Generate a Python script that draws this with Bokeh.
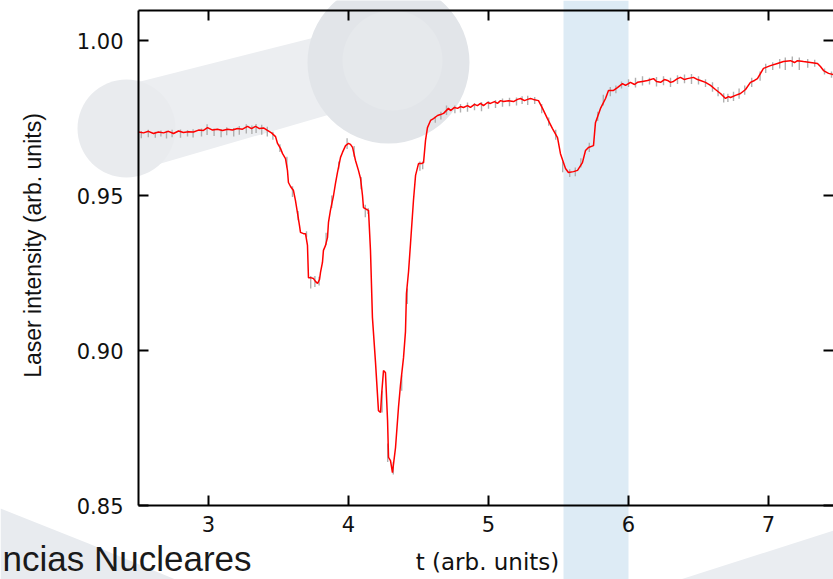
from bokeh.plotting import figure
from bokeh.models import (Range1d, LinearAxis, FixedTicker, PrintfTickFormatter,
                          CustomJSTickFormatter, ColumnDataSource)
from bokeh.core.properties import value
from bokeh.embed import file_html
from bokeh.resources import INLINE

# ---------------- data ----------------
x_ticks = [3, 4, 5, 6, 7]
y_ticks = [0.85, 0.90, 0.95, 1.00]

fit_t = [2.500, 2.536, 2.571, 2.607, 2.643, 2.679, 2.714, 2.750, 2.786, 2.821,
         2.857, 2.893, 2.929, 2.964, 2.993, 3.029, 3.064, 3.100, 3.136, 3.171,
         3.207, 3.243, 3.279, 3.307, 3.336, 3.364, 3.393, 3.421, 3.450, 3.479,
         3.493, 3.514, 3.529, 3.550, 3.564, 3.571, 3.586, 3.607, 3.621, 3.636,
         3.650, 3.657, 3.679, 3.693, 3.707, 3.714, 3.729, 3.750, 3.764, 3.779,
         3.793, 3.800, 3.814, 3.821, 3.836, 3.850, 3.857, 3.871, 3.893, 3.907,
         3.921, 3.943, 3.957, 3.979, 4.000, 4.014, 4.029, 4.050, 4.071, 4.086,
         4.100, 4.107, 4.129, 4.143, 4.157, 4.171, 4.193, 4.214, 4.229, 4.236,
         4.250, 4.264, 4.279, 4.286, 4.300, 4.314, 4.336, 4.357, 4.371, 4.393,
         4.407, 4.414, 4.429, 4.443, 4.464, 4.479, 4.500, 4.521, 4.536, 4.550,
         4.564, 4.586, 4.607, 4.636, 4.657, 4.679, 4.714, 4.729, 4.757, 4.779,
         4.800, 4.821, 4.850, 4.871, 4.900, 4.921, 4.943, 4.964, 4.993, 5.014,
         5.043, 5.064, 5.086, 5.107, 5.143, 5.179, 5.207, 5.229, 5.257, 5.279,
         5.300, 5.321, 5.357, 5.386, 5.421, 5.457, 5.493, 5.514, 5.550, 5.571,
         5.607, 5.636, 5.671, 5.693, 5.714, 5.750, 5.764, 5.800, 5.836, 5.857,
         5.893, 5.921, 5.957, 5.979, 6.014, 6.043, 6.064, 6.100, 6.136, 6.179,
         6.200, 6.229, 6.257, 6.279, 6.300, 6.321, 6.350, 6.371, 6.400, 6.421,
         6.464, 6.493, 6.514, 6.550, 6.586, 6.621, 6.657, 6.693, 6.714, 6.729,
         6.764, 6.800, 6.836, 6.871, 6.900, 6.921, 6.964, 7.014, 7.064, 7.107,
         7.157, 7.186, 7.207, 7.250, 7.300, 7.350, 7.371, 7.393, 7.429, 7.464]

fit_v = [0.9705, 0.9702, 0.9707, 0.9700, 0.9705, 0.9702, 0.9707, 0.9700, 0.9708, 0.9703,
         0.9706, 0.9705, 0.9711, 0.9710, 0.9719, 0.9711, 0.9714, 0.9710, 0.9714, 0.9711,
         0.9716, 0.9714, 0.9723, 0.9716, 0.9723, 0.9716, 0.9718, 0.9710, 0.9702, 0.9690,
         0.9668, 0.9652, 0.9635, 0.9619, 0.9581, 0.9542, 0.9529, 0.9516, 0.9484, 0.9442,
         0.9403, 0.9381, 0.9377, 0.9377, 0.9339, 0.9235, 0.9235, 0.9232, 0.9223, 0.9216,
         0.9229, 0.9252, 0.9284, 0.9323, 0.9339, 0.9365, 0.9413, 0.9452, 0.9500, 0.9539,
         0.9574, 0.9623, 0.9639, 0.9661, 0.9668, 0.9665, 0.9655, 0.9613, 0.9581, 0.9555,
         0.9500, 0.9461, 0.9455, 0.9452, 0.9323, 0.9106, 0.8961, 0.8806, 0.8800, 0.8855,
         0.8935, 0.8929, 0.8774, 0.8655, 0.8645, 0.8606, 0.8687, 0.8816, 0.8887, 0.8977,
         0.9061, 0.9184, 0.9255, 0.9345, 0.9484, 0.9565, 0.9603, 0.9603, 0.9606, 0.9677,
         0.9719, 0.9742, 0.9748, 0.9758, 0.9761, 0.9765, 0.9781, 0.9774, 0.9784, 0.9781,
         0.9787, 0.9784, 0.9790, 0.9784, 0.9794, 0.9790, 0.9797, 0.9790, 0.9800, 0.9797,
         0.9803, 0.9797, 0.9806, 0.9803, 0.9806, 0.9803, 0.9810, 0.9813, 0.9806, 0.9810,
         0.9813, 0.9810, 0.9806, 0.9781, 0.9748, 0.9716, 0.9687, 0.9635, 0.9587, 0.9574,
         0.9577, 0.9581, 0.9606, 0.9645, 0.9655, 0.9661, 0.9735, 0.9781, 0.9813, 0.9839,
         0.9839, 0.9848, 0.9861, 0.9855, 0.9865, 0.9858, 0.9865, 0.9868, 0.9871, 0.9877,
         0.9868, 0.9865, 0.9874, 0.9871, 0.9865, 0.9868, 0.9877, 0.9881, 0.9874, 0.9877,
         0.9881, 0.9874, 0.9871, 0.9865, 0.9855, 0.9842, 0.9829, 0.9813, 0.9819, 0.9816,
         0.9823, 0.9829, 0.9842, 0.9865, 0.9871, 0.9877, 0.9910, 0.9919, 0.9926, 0.9932,
         0.9935, 0.9929, 0.9935, 0.9932, 0.9929, 0.9926, 0.9916, 0.9903, 0.9894, 0.9890]

# raw signal: spikes around the fit (time, low, high)
raw_t = [2.52, 2.57, 2.62, 2.66, 2.70, 2.74, 2.80, 2.85, 2.89, 2.95,
         2.99, 3.04, 3.09, 3.13, 3.18, 3.22, 3.27, 3.31, 3.34, 3.38,
         3.42, 3.46, 3.51, 3.56, 3.60, 3.64, 3.70, 3.73, 3.76, 3.79,
         3.84, 3.88, 3.93, 3.99, 4.04, 4.09, 4.12, 4.14, 4.24, 4.28,
         4.32, 4.38, 4.42, 4.51, 4.53, 4.62, 4.66, 4.70, 4.76, 4.80,
         4.85, 4.90, 4.95, 5.00, 5.05, 5.10, 5.15, 5.20, 5.24, 5.28,
         5.33, 5.38, 5.43, 5.48, 5.53, 5.58, 5.62, 5.66, 5.72, 5.78,
         5.82, 5.87, 5.91, 5.95, 6.00, 6.05, 6.10, 6.15, 6.20, 6.25,
         6.30, 6.35, 6.40, 6.45, 6.50, 6.55, 6.60, 6.64, 6.68, 6.71,
         6.75, 6.79, 6.83, 6.88, 6.94, 6.98, 7.03, 7.08, 7.12, 7.17,
         7.22, 7.28, 7.33, 7.40, 7.45]
raw_lo = [0.9685, 0.9688, 0.9686, 0.9690, 0.9684, 0.9688, 0.9686, 0.9690, 0.9687, 0.9690,
          0.9695, 0.9692, 0.9688, 0.9694, 0.9690, 0.9696, 0.9700, 0.9698, 0.9702, 0.9696,
          0.9690, 0.9680, 0.9640, 0.9590, 0.9495, 0.9420, 0.9365, 0.9200, 0.9205, 0.9210,
          0.9340, 0.9460, 0.9585, 0.9650, 0.9625, 0.9520, 0.9430, 0.9440, 0.8800, 0.8640,
          0.8600, 0.8870, 0.9150, 0.9580, 0.9585, 0.9735, 0.9745, 0.9760, 0.9765, 0.9768,
          0.9770, 0.9775, 0.9772, 0.9780, 0.9782, 0.9786, 0.9788, 0.9790, 0.9795, 0.9792,
          0.9795, 0.9765, 0.9725, 0.9680, 0.9575, 0.9560, 0.9562, 0.9590, 0.9640, 0.9740,
          0.9790, 0.9820, 0.9830, 0.9845, 0.9850, 0.9848, 0.9855, 0.9858, 0.9852, 0.9856,
          0.9850, 0.9860, 0.9862, 0.9860, 0.9858, 0.9850, 0.9835, 0.9820, 0.9800, 0.9802,
          0.9805, 0.9812, 0.9825, 0.9850, 0.9870, 0.9895, 0.9905, 0.9910, 0.9905, 0.9915,
          0.9905, 0.9912, 0.9915, 0.9890, 0.9880]
raw_hi = [0.9708, 0.9712, 0.9706, 0.9710, 0.9709, 0.9712, 0.9713, 0.9711, 0.9714, 0.9716,
          0.9730, 0.9716, 0.9714, 0.9720, 0.9718, 0.9724, 0.9730, 0.9726, 0.9731, 0.9728,
          0.9722, 0.9706, 0.9665, 0.9625, 0.9530, 0.9450, 0.9385, 0.9240, 0.9240, 0.9238,
          0.9380, 0.9500, 0.9610, 0.9685, 0.9660, 0.9560, 0.9470, 0.9460, 0.8870, 0.8700,
          0.8640, 0.8920, 0.9200, 0.9610, 0.9610, 0.9755, 0.9770, 0.9790, 0.9790, 0.9795,
          0.9800, 0.9798, 0.9802, 0.9805, 0.9808, 0.9813, 0.9815, 0.9816, 0.9820, 0.9822,
          0.9818, 0.9795, 0.9752, 0.9712, 0.9610, 0.9585, 0.9590, 0.9620, 0.9670, 0.9770,
          0.9825, 0.9850, 0.9855, 0.9868, 0.9875, 0.9880, 0.9885, 0.9880, 0.9882, 0.9885,
          0.9880, 0.9888, 0.9890, 0.9892, 0.9885, 0.9875, 0.9865, 0.9850, 0.9830, 0.9828,
          0.9835, 0.9845, 0.9855, 0.9880, 0.9900, 0.9925, 0.9930, 0.9940, 0.9945, 0.9948,
          0.9945, 0.9940, 0.9938, 0.9910, 0.9900]

x_title = "t (arb. units)"
y_title = "Laser intensity (arb. units)"
watermark_text = "ncias Nucleares"

# axis box limits (data units)
T_MIN, T_MAX = 2.5, 7.4643
V_MIN, V_MAX = 0.85, 1.00968

# ---------------- page geometry ----------------
W, H = 833, 579
PX_PER_T = 140.0      # pixels per time unit
PX_PER_V = 3100.0     # pixels per intensity unit
FRAME_L, FRAME_B = 138, 505

def tx(px):   # page pixel -> time coordinate (decorations / titles only)
    return T_MIN + (px - FRAME_L) / PX_PER_T

def vy(py):   # page pixel -> intensity coordinate (decorations / titles only)
    return V_MIN + (FRAME_B - py) / PX_PER_V

p = figure(width=W, height=H, output_backend="svg", toolbar_location=None,
           x_range=Range1d(tx(0), tx(W)), y_range=Range1d(vy(H), vy(0)),
           x_axis_location=None, y_axis_location=None,
           min_border=0, min_border_left=0, min_border_right=0,
           min_border_top=0, min_border_bottom=0)
p.grid.grid_line_color = None
p.outline_line_color = None
p.background_fill_color = "white"
p.border_fill_color = "white"

# ---------------- watermark (background decoration) ----------------
def patch_px(xs, ys, color):
    p.patch([tx(x) for x in xs], [vy(y) for y in ys], fill_color=color, line_color=None)

def disc_px(x, y, r, color):
    p.circle(x=[tx(x)], y=[vy(y)], radius=r, radius_units="screen",
             fill_color=color, line_color=None)

patch_px([563, 628, 628, 563], [0, 0, H, H], "#ddebf5")            # light-blue band
patch_px([128, 318, 336, 150], [84, 36, 112, 166], "#eceef1")      # logo bar
disc_px(126, 128, 49, "#e9ebee")                                    # small disc
disc_px(388, 62, 81, "#e2e5e9")                                     # large disc
disc_px(392, 60, 50, "#e6e9ec")
patch_px([0, 88, 175, 0], [508, 543, H, H], "#e8ebef")             # corner shades
patch_px([680, W, W], [H, 530, H], "#eaedf1")

p.text(x=[tx(2)], y=[vy(558)], text=[watermark_text], text_font=value("Liberation Sans"),
       text_font_size="35px", text_color="#1a1a1a", text_align="left",
       text_baseline="middle")

# ---------------- data ----------------
raw_src = ColumnDataSource(dict(t=raw_t, lo=raw_lo, hi=raw_hi))
p.segment(x0="t", y0="lo", x1="t", y1="hi", source=raw_src,
          line_color="#b0b0b0", line_width=1.4)
fit_src = ColumnDataSource(dict(t=fit_t, v=fit_v))
p.line(x="t", y="v", source=fit_src, line_color="#ff0000", line_width=1.5)

# axis titles
p.text(x=[tx(32)], y=[vy(245)], text=[y_title], angle=90, angle_units="deg",
       text_font=value("Liberation Sans"), text_font_size="23px",
       text_color="#111111", text_align="center", text_baseline="middle")
p.text(x=[tx(487)], y=[vy(561)], text=[x_title],
       text_font=value("DejaVu Sans"), text_font_size="23px",
       text_color="#111111", text_align="center", text_baseline="middle")

# ---------------- axes (boxed, ticks inside) ----------------
def style(ax, labels=True):
    ax.axis_line_color = "black"
    ax.axis_line_width = 2
    ax.major_tick_line_color = "black"
    ax.major_tick_line_width = 2
    ax.major_tick_in = 10
    ax.major_tick_out = 0
    ax.minor_tick_line_color = None
    ax.major_label_text_font = "DejaVu Sans"
    ax.major_label_text_font_size = "21px"
    ax.major_label_text_color = "#111111"
    if not labels:
        ax.formatter = CustomJSTickFormatter(code="return ''")
        ax.major_label_standoff = 0

xb = LinearAxis(ticker=FixedTicker(ticks=x_ticks), fixed_location=V_MIN,
                bounds=(T_MIN, T_MAX))
style(xb)
xb.major_label_standoff = 10
p.add_layout(xb, "below")

yl = LinearAxis(ticker=FixedTicker(ticks=y_ticks), fixed_location=T_MIN,
                bounds=(V_MIN, V_MAX), formatter=PrintfTickFormatter(format="%.2f"))
style(yl)
yl.major_label_standoff = 15
p.add_layout(yl, "left")

xt = LinearAxis(ticker=FixedTicker(ticks=x_ticks), fixed_location=V_MAX,
                bounds=(T_MIN, T_MAX))
style(xt, labels=False)
p.add_layout(xt, "above")

yr = LinearAxis(ticker=FixedTicker(ticks=y_ticks), fixed_location=T_MAX,
                bounds=(V_MIN, V_MAX))
style(yr, labels=False)
yr.axis_line_color = None
p.add_layout(yr, "right")

open("out.html", "w").write(file_html(p, INLINE))
